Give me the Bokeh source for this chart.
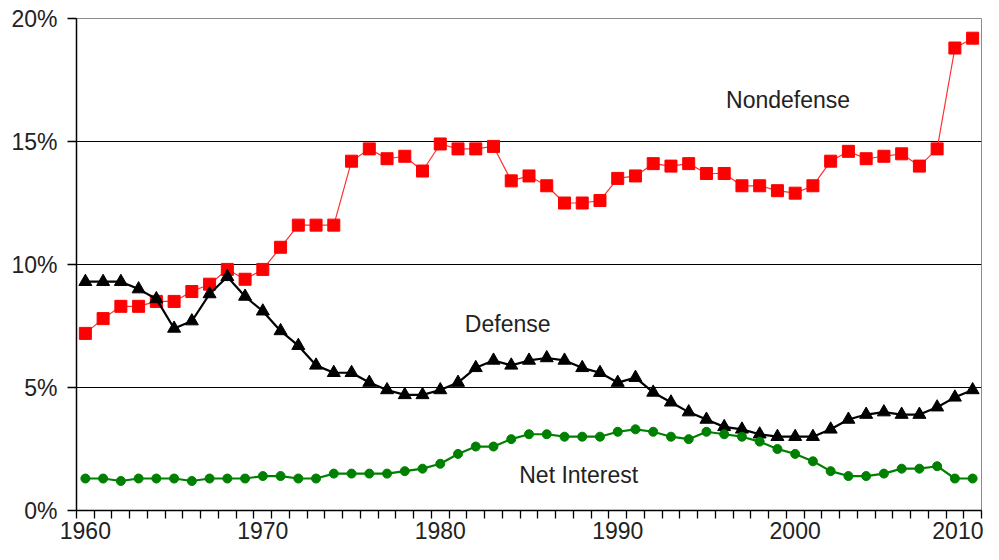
from bokeh.plotting import figure
from bokeh.models import FixedTicker, PrintfTickFormatter, Range1d, Label, ColumnDataSource
from bokeh.embed import file_html
from bokeh.resources import INLINE

years = list(range(1960, 2011))

nondefense = [7.2, 7.8, 8.3, 8.3, 8.5, 8.5, 8.9, 9.2, 9.8, 9.4,
              9.8, 10.7, 11.6, 11.6, 11.6, 14.2, 14.7, 14.3, 14.4, 13.8,
              14.9, 14.7, 14.7, 14.8, 13.4, 13.6, 13.2, 12.5, 12.5, 12.6,
              13.5, 13.6, 14.1, 14.0, 14.1, 13.7, 13.7, 13.2, 13.2, 13.0,
              12.9, 13.2, 14.2, 14.6, 14.3, 14.4, 14.5, 14.0, 14.7, 18.8,
              19.2]

defense = [9.3, 9.3, 9.3, 9.0, 8.6, 7.4, 7.7, 8.8, 9.5, 8.7,
           8.1, 7.3, 6.7, 5.9, 5.6, 5.6, 5.2, 4.9, 4.7, 4.7,
           4.9, 5.2, 5.8, 6.1, 5.9, 6.1, 6.2, 6.1, 5.8, 5.6,
           5.2, 5.4, 4.8, 4.4, 4.0, 3.7, 3.4, 3.3, 3.1, 3.0,
           3.0, 3.0, 3.3, 3.7, 3.9, 4.0, 3.9, 3.9, 4.2, 4.6,
           4.9]

net_interest = [1.3, 1.3, 1.2, 1.3, 1.3, 1.3, 1.2, 1.3, 1.3, 1.3,
                1.4, 1.4, 1.3, 1.3, 1.5, 1.5, 1.5, 1.5, 1.6, 1.7,
                1.9, 2.3, 2.6, 2.6, 2.9, 3.1, 3.1, 3.0, 3.0, 3.0,
                3.2, 3.3, 3.2, 3.0, 2.9, 3.2, 3.1, 3.0, 2.8, 2.5,
                2.3, 2.0, 1.6, 1.4, 1.4, 1.5, 1.7, 1.7, 1.8, 1.3,
                1.3]

x_tick_labels = [1960, 1970, 1980, 1990, 2000, 2010]
y_ticks = [0, 5, 10, 15, 20]
series_names = ["Nondefense", "Defense", "Net Interest"]

FONT = "Liberation Sans"
FS = "23px"

src = ColumnDataSource(dict(year=years, nd=nondefense, d=defense, ni=net_interest))

p = figure(width=983, height=544, output_backend="svg", toolbar_location=None,
           x_range=Range1d(years[0] - 0.5, years[-1] + 0.5),
           y_range=Range1d(y_ticks[0], y_ticks[-1]),
           min_border_left=76, min_border_right=2, min_border_top=18, min_border_bottom=34)

p.background_fill_color = "white"
p.border_fill_color = "white"
p.outline_line_color = "#8c8c8c"
p.outline_line_width = 1

# grid
p.xgrid.visible = False
p.ygrid.ticker = FixedTicker(ticks=y_ticks[1:-1])
p.ygrid.grid_line_color = "black"
p.ygrid.grid_line_width = 1.2
p.ygrid.grid_line_alpha = 1.0

# x axis
xa = p.xaxis[0]
xa.ticker = FixedTicker(ticks=x_tick_labels, minor_ticks=[y - 0.5 for y in years] + [years[-1] + 0.5])
xa.major_tick_out = 0
xa.major_tick_in = 0
xa.minor_tick_out = 8
xa.minor_tick_in = 0
xa.minor_tick_line_color = "black"
xa.minor_tick_line_width = 1.3
xa.axis_line_color = "black"
xa.axis_line_width = 1.5
xa.major_label_standoff = 3
xa.major_label_text_font = FONT
xa.major_label_text_font_size = FS
xa.major_label_text_color = "#222222"

# y axis
ya = p.yaxis[0]
ya.ticker = FixedTicker(ticks=y_ticks)
ya.formatter = PrintfTickFormatter(format="%d%%")
ya.major_tick_out = 9
ya.major_tick_in = 0
ya.minor_tick_out = 0
ya.minor_tick_in = 0
ya.major_tick_line_color = "black"
ya.major_tick_line_width = 1.3
ya.axis_line_color = "black"
ya.axis_line_width = 1.5
ya.major_label_standoff = 10
ya.major_label_text_font = FONT
ya.major_label_text_font_size = FS
ya.major_label_text_color = "#222222"

# series
p.line("year", "nd", source=src, line_color="#ff3030", line_width=1.2)
p.scatter("year", "nd", source=src, marker="square", size=12, fill_color="#ff0000", line_color="#ff0000")

p.line("year", "d", source=src, line_color="black", line_width=2.2)
p.scatter("year", "d", source=src, marker="triangle", size=13, fill_color="black", line_color="black")

p.line("year", "ni", source=src, line_color="#008000", line_width=2.2)
p.scatter("year", "ni", source=src, marker="circle", size=9, fill_color="#008000", line_color="#008000")

label_pos = [(1999.6, 16.7), (1983.8, 7.6), (1987.8, 1.45)]
for name, (lx, ly) in zip(series_names, label_pos):
    p.add_layout(Label(x=lx, y=ly, text=name, text_font=FONT, text_font_size=FS,
                       text_color="#222222", text_align="center", text_baseline="middle"))

open("out.html", "w").write(file_html(p, INLINE))
